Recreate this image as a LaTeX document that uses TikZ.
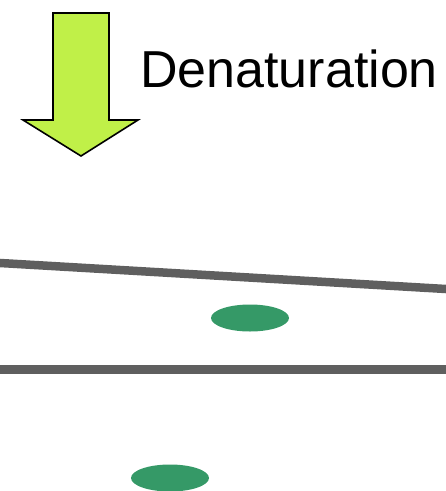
\documentclass[tikz,border=0pt]{standalone}
\usepackage{fontspec}
\setmainfont{Liberation Sans}
\definecolor{arrowfill}{RGB}{192,240,72}
\definecolor{spotgreen}{RGB}{53,153,103}
\definecolor{strandgray}{RGB}{95,95,95}
\tikzset{
  strand/.style={draw=strandgray, line width=8.5pt},
  spot/.style={fill=spotgreen, draw=none},
  bigarrow/.style={fill=arrowfill, draw=black, line width=1.6pt, line join=miter},
  label/.style={font=\fontsize{52}{60}\selectfont, inner sep=0pt, anchor=base west}
}
\begin{document}
\begin{tikzpicture}[x=1pt,y=-1pt]
\useasboundingbox (0,0) rectangle (446,491);
\clip (0,0) rectangle (446,491);
% arrow
\draw[bigarrow] (53,13) -- (109,13) -- (109,120) -- (138,120) -- (81,156) -- (23,120) -- (53,120) -- cycle;
\node[label] (title) at (140,87) {Denaturation};
% strands
\coordinate (s1a) at (-5,262.7);
\coordinate (s1b) at (451,289.3);
\draw[strand] (s1a) -- (s1b);
\coordinate (s2a) at (-5,369.5);
\coordinate (s2b) at (451,369.5);
\draw[strand] (s2a) -- (s2b);
% spots
\fill[spot] (250,318) ellipse [x radius=39, y radius=13.5];
\fill[spot] (170,478) ellipse [x radius=39, y radius=13.5];
\end{tikzpicture}
\end{document}
